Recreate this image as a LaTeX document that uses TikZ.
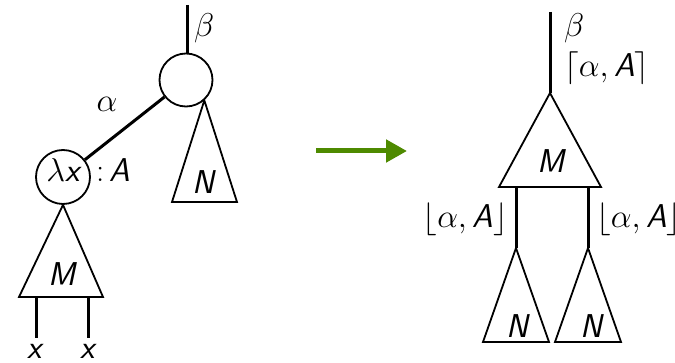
\documentclass[tikz,border=0pt]{standalone}
\usepackage{fix-cm}
\usetikzlibrary{arrows.meta}
\definecolor{arrgreen}{RGB}{78,138,0}
\newcommand\sv[1]{\mbox{\sffamily\itshape #1}}
\tikzset{
  lbl/.style={inner sep=0pt, font=\fontsize{33}{38}\selectfont},
  edge/.style={line width=3pt},
  tri/.style={line width=1.8pt, line join=miter},
  ring/.style={circle, draw, line width=1.8pt, minimum size=53pt, inner sep=0pt},
  bigarrow/.style={line width=5pt, draw=arrgreen, -{Triangle[length=21pt,width=22pt]}}
}
\begin{document}
\begin{tikzpicture}[x=1pt,y=-1pt]
\useasboundingbox (0,0) rectangle (675,363);
% ---------- left tree ----------
\node[ring] (top) at (186,80) {};
\node[ring, minimum size=54pt] (lam) at (63,177) {};
\node[lbl, anchor=base] (lamx) at (63,182) {$\lambda$\sv{x}};
\coordinate (topin) at (187,5);
\draw[edge] (topin) -- (top.north -| topin);
\node[lbl, anchor=base west] (betaL) at (194,37) {$\beta$};
\draw[edge] (top) -- (lam);
\node[lbl] (alphaL) at (107,104) {$\alpha$};
\node[lbl, anchor=base west] (typeA) at (96,182) {:\hspace{5pt}\sv{A}};
% triangle N (left)
\coordinate (nApex) at (top.-48);
\coordinate (nBL) at (172,202);
\coordinate (nBR) at (237,202);
\draw[tri] (nApex) -- (nBR) -- (nBL) -- cycle;
\node[lbl, anchor=base] (nL) at (203,194) {\sv{N}};
% triangle M (left)
\coordinate (mApex) at (lam.south);
\coordinate (mBL) at (19,297);
\coordinate (mBR) at (103,297);
\draw[tri] (mApex) -- (mBR) -- (mBL) -- cycle;
\node[lbl, anchor=base] (mL) at (62,286) {\sv{M}};
% legs with x
\coordinate (leg1) at (36,297);
\coordinate (leg2) at (88,297);
\node[lbl, anchor=base] (x1) at (35,359) {\sv{x}};
\node[lbl, anchor=base] (x2) at (88,359) {\sv{x}};
\coordinate (leg1e) at (36,338);
\coordinate (leg2e) at (88,338);
\draw[edge] (leg1) -- (leg1e);
\draw[edge] (leg2) -- (leg2e);
% ---------- arrow ----------
\coordinate (arrS) at (316,151);
\coordinate (arrE) at (407,151);
\draw[bigarrow] (arrS) -- (arrE);
% ---------- right tree ----------
\coordinate (rtop) at (550,12);
\coordinate (rmApex) at (550,93);
\coordinate (rmBL) at (499,187);
\coordinate (rmBR) at (601,187);
\draw[edge] (rtop) -- (rmApex);
\draw[tri] (rmApex) -- (rmBR) -- (rmBL) -- cycle;
\node[lbl, anchor=base west] (betaR) at (564,37) {$\beta$};
\node[lbl, anchor=base west] (ceilR) at (564,77) {$\lceil\alpha,\sv{A}\rceil$};
\node[lbl, anchor=base] (mR) at (551,173) {\sv{M}};
\coordinate (rl1) at (516,187);
\coordinate (rl2) at (588,187);
\coordinate (n1Apex) at (516,248);
\coordinate (n2Apex) at (588,248);
\draw[edge] (rl1) -- (n1Apex);
\draw[edge] (rl2) -- (n2Apex);
\node[lbl, anchor=base east] (floorL) at (508,228) {$\lfloor\alpha,\sv{A}\rfloor$};
\node[lbl, anchor=base west] (floorR) at (596,228) {$\lfloor\alpha,\sv{A}\rfloor$};
\coordinate (n1BL) at (483,342);
\coordinate (n1BR) at (549,342);
\coordinate (n2BL) at (555,342);
\coordinate (n2BR) at (621,342);
\draw[tri] (n1Apex) -- (n1BR) -- (n1BL) -- cycle;
\draw[tri] (n2Apex) -- (n2BR) -- (n2BL) -- cycle;
\node[lbl, anchor=base] (nR1) at (517,338) {\sv{N}};
\node[lbl, anchor=base] (nR2) at (591,338) {\sv{N}};
\end{tikzpicture}
\end{document}
